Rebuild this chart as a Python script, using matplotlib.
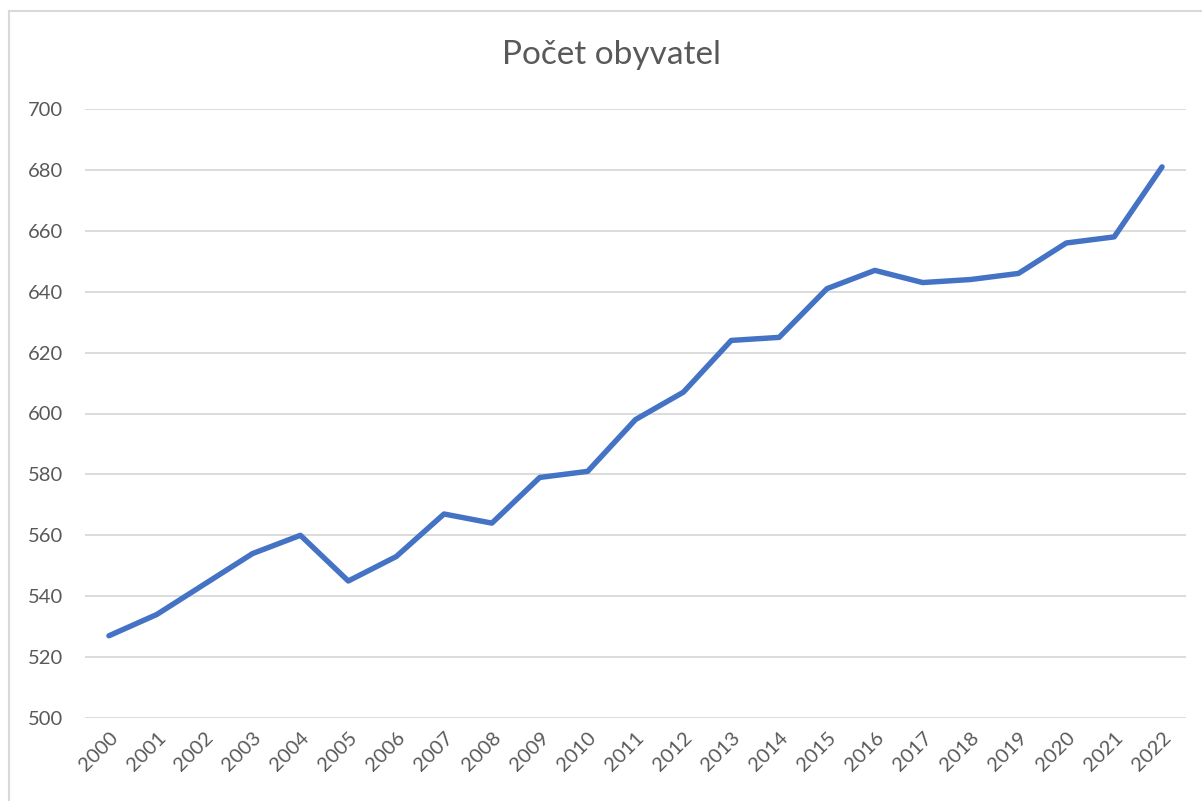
import matplotlib

matplotlib.use("Agg")
import matplotlib.pyplot as plt
from matplotlib.lines import Line2D

# --- data ---
years = [str(y) for y in range(2000, 2023)]
population = [527, 534, 544, 554, 560, 545, 553, 567, 564, 579, 581, 598,
              607, 624, 625, 641, 647, 643, 644, 646, 656, 658, 681]
y_ticks = list(range(500, 701, 20))

W, H = 1202, 801
plt.rcParams["font.family"] = ["Lato", "DejaVu Sans"]

fig = plt.figure(figsize=(W / 100, H / 100), dpi=100)
ax = fig.add_axes([85 / W, 1 - 718 / H, (1186 - 85) / W, (718 - 109) / H])

ax.plot(range(len(years)), population, color="#4472C4", linewidth=3.9,
        solid_joinstyle="round", solid_capstyle="round", zorder=3)

ax.set_xlim(-0.5, len(years) - 0.5)
ax.set_ylim(500, 700)
ax.set_yticks(y_ticks)
ax.set_xticks(range(len(years)))
ax.set_xticklabels(years, rotation=45, ha="right", rotation_mode="anchor")
ax.tick_params(axis="both", length=0, labelsize=14.5, colors="#595959")
ax.tick_params(axis="y", pad=16)
ax.tick_params(axis="x", pad=8)

ax.grid(axis="y", color="#D9D9D9", linewidth=1.3)
ax.set_axisbelow(True)
for s in ax.spines.values():
    s.set_visible(False)

fig.text(612 / W, 1 - 55 / H, "Počet obyvatel", ha="center", va="center",
         fontsize=24, color="#595959")

# chart frame: only left and top edges visible in the crop
fig.add_artist(Line2D([9 / W, 9 / W], [0, 1 - 11 / H], transform=fig.transFigure,
                      color="#D9D9D9", linewidth=1.5))
fig.add_artist(Line2D([9 / W, 1], [1 - 11 / H, 1 - 11 / H], transform=fig.transFigure,
                      color="#D9D9D9", linewidth=1.5))

fig.savefig("out.png", dpi=100)
